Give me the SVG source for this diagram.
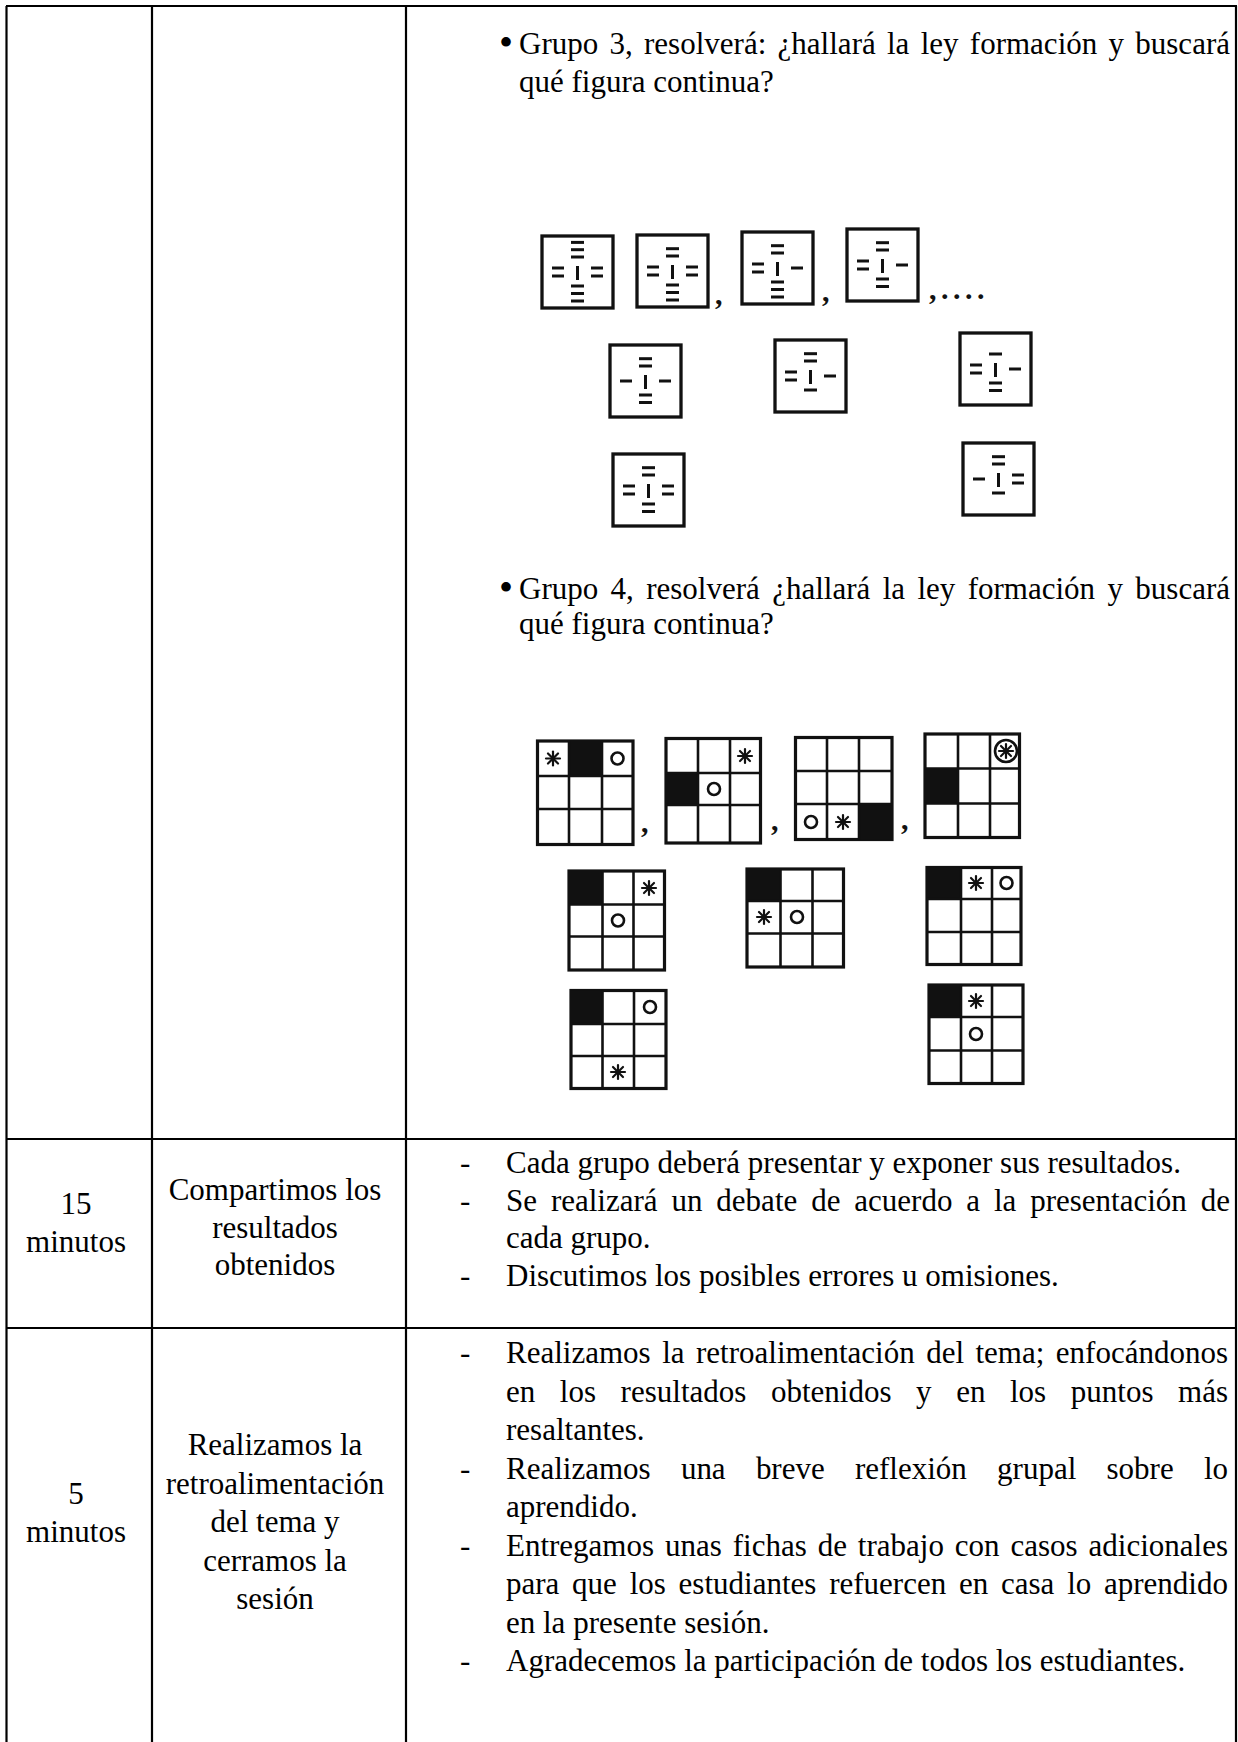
<svg xmlns="http://www.w3.org/2000/svg" width="1238" height="1742" viewBox="0 0 1238 1742">
<style>
.t{font-family:"Liberation Serif","Times New Roman",serif;font-size:31px;fill:#000}
.c{text-anchor:middle}
.bul{font-family:"Liberation Serif","Times New Roman",serif;font-size:40px;fill:#000}
.tl{stroke:#000;stroke-width:2.2;fill:none}
.bx{stroke:#111;stroke-width:3.3;fill:#fff}
.br{stroke:#111;stroke-width:3;stroke-linecap:butt}
.gr{stroke:#111;stroke-width:3.2;fill:#fff}
.gl{stroke:#111;stroke-width:2.6}
.blk{fill:#111}
.p{font-family:"Liberation Serif",serif;font-weight:bold;font-size:30px;fill:#111}
</style>
<defs>
<g id="ast" stroke="#111" stroke-width="2.2" stroke-linecap="round">
<line x1="-7" y1="0" x2="7" y2="0"/><line x1="0" y1="-7" x2="0" y2="7"/>
<line x1="-5" y1="-5" x2="5" y2="5"/><line x1="-5" y1="5" x2="5" y2="-5"/>
</g>
<circle id="ring" r="6" fill="none" stroke="#111" stroke-width="2.6"/>
</defs>
<rect x="0" y="0" width="1238" height="1742" fill="#fff"/>
<g id="table">
<line class="tl" x1="6" y1="6" x2="1237" y2="6"/>
<line class="tl" x1="6.5" y1="6" x2="6.5" y2="1742"/>
<line class="tl" x1="152" y1="6" x2="152" y2="1742"/>
<line class="tl" x1="406" y1="6" x2="406" y2="1742"/>
<line class="tl" x1="1236" y1="6" x2="1236" y2="1742"/>
<line class="tl" x1="6" y1="1139" x2="1237" y2="1139"/>
<line class="tl" x1="6" y1="1328" x2="1237" y2="1328" stroke-width="2.8"/>
</g>
<g id="group3-text">
<text class="bul" x="499" y="56">•</text>
<text class="t" x="519" y="54" word-spacing="3.5" textLength="711" lengthAdjust="spacing">Grupo 3, resolverá: ¿hallará la ley formación y buscará</text>
<text class="t" x="519" y="92">qué figura continua?</text>
</g>
<g id="group3-figure">
<g transform="translate(542,236)"><rect class="bx" width="71" height="72"/><g class="br"><line x1="35.5" y1="30" x2="35.5" y2="44"/><line x1="29" y1="21" x2="42" y2="21"/><line x1="29" y1="13.7" x2="42" y2="13.7"/><line x1="29" y1="6.4" x2="42" y2="6.4"/><line x1="29" y1="50" x2="42" y2="50"/><line x1="29" y1="57.5" x2="42" y2="57.5"/><line x1="29" y1="65" x2="42" y2="65"/><line x1="10" y1="32" x2="22" y2="32"/><line x1="10" y1="40" x2="22" y2="40"/><line x1="49" y1="32" x2="61" y2="32"/><line x1="49" y1="40" x2="61" y2="40"/></g></g>
<g transform="translate(637,235)"><rect class="bx" width="71" height="72"/><g class="br"><line x1="35.5" y1="30" x2="35.5" y2="44"/><line x1="29" y1="21" x2="42" y2="21"/><line x1="29" y1="13.7" x2="42" y2="13.7"/><line x1="29" y1="50" x2="42" y2="50"/><line x1="29" y1="57.5" x2="42" y2="57.5"/><line x1="29" y1="65" x2="42" y2="65"/><line x1="10" y1="32" x2="22" y2="32"/><line x1="10" y1="40" x2="22" y2="40"/><line x1="49" y1="32" x2="61" y2="32"/><line x1="49" y1="40" x2="61" y2="40"/></g></g>
<text class="p" x="715" y="304">,</text>
<g transform="translate(742,232)"><rect class="bx" width="71" height="72"/><g class="br"><line x1="35.5" y1="30" x2="35.5" y2="44"/><line x1="29" y1="21" x2="42" y2="21"/><line x1="29" y1="13.7" x2="42" y2="13.7"/><line x1="29" y1="50" x2="42" y2="50"/><line x1="29" y1="57.5" x2="42" y2="57.5"/><line x1="29" y1="65" x2="42" y2="65"/><line x1="10" y1="32" x2="22" y2="32"/><line x1="10" y1="40" x2="22" y2="40"/><line x1="49" y1="36" x2="61" y2="36"/></g></g>
<text class="p" x="822" y="301">,</text>
<g transform="translate(847,229)"><rect class="bx" width="71" height="72"/><g class="br"><line x1="35.5" y1="30" x2="35.5" y2="44"/><line x1="29" y1="21" x2="42" y2="21"/><line x1="29" y1="13.7" x2="42" y2="13.7"/><line x1="29" y1="50" x2="42" y2="50"/><line x1="29" y1="57.5" x2="42" y2="57.5"/><line x1="10" y1="32" x2="22" y2="32"/><line x1="10" y1="40" x2="22" y2="40"/><line x1="49" y1="36" x2="61" y2="36"/></g></g>
<text class="p" x="929" y="299" letter-spacing="4.5">,....</text>
<g transform="translate(610,345)"><rect class="bx" width="71" height="72"/><g class="br"><line x1="35.5" y1="30" x2="35.5" y2="44"/><line x1="29" y1="21" x2="42" y2="21"/><line x1="29" y1="13.7" x2="42" y2="13.7"/><line x1="29" y1="50" x2="42" y2="50"/><line x1="29" y1="57.5" x2="42" y2="57.5"/><line x1="10" y1="36" x2="22" y2="36"/><line x1="49" y1="36" x2="61" y2="36"/></g></g>
<g transform="translate(775,340)"><rect class="bx" width="71" height="72"/><g class="br"><line x1="35.5" y1="30" x2="35.5" y2="44"/><line x1="29" y1="21" x2="42" y2="21"/><line x1="29" y1="13.7" x2="42" y2="13.7"/><line x1="29" y1="50" x2="42" y2="50"/><line x1="10" y1="32" x2="22" y2="32"/><line x1="10" y1="40" x2="22" y2="40"/><line x1="49" y1="36" x2="61" y2="36"/></g></g>
<g transform="translate(960,333)"><rect class="bx" width="71" height="72"/><g class="br"><line x1="35.5" y1="30" x2="35.5" y2="44"/><line x1="29" y1="21" x2="42" y2="21"/><line x1="29" y1="50" x2="42" y2="50"/><line x1="29" y1="57.5" x2="42" y2="57.5"/><line x1="10" y1="32" x2="22" y2="32"/><line x1="10" y1="40" x2="22" y2="40"/><line x1="49" y1="36" x2="61" y2="36"/></g></g>
<g transform="translate(613,454)"><rect class="bx" width="71" height="72"/><g class="br"><line x1="35.5" y1="30" x2="35.5" y2="44"/><line x1="29" y1="21" x2="42" y2="21"/><line x1="29" y1="13.7" x2="42" y2="13.7"/><line x1="29" y1="50" x2="42" y2="50"/><line x1="29" y1="57.5" x2="42" y2="57.5"/><line x1="10" y1="32" x2="22" y2="32"/><line x1="10" y1="40" x2="22" y2="40"/><line x1="49" y1="32" x2="61" y2="32"/><line x1="49" y1="40" x2="61" y2="40"/></g></g>
<g transform="translate(963,443)"><rect class="bx" width="71" height="72"/><g class="br"><line x1="35.5" y1="30" x2="35.5" y2="44"/><line x1="29" y1="21" x2="42" y2="21"/><line x1="29" y1="13.7" x2="42" y2="13.7"/><line x1="29" y1="50" x2="42" y2="50"/><line x1="10" y1="36" x2="22" y2="36"/><line x1="49" y1="32" x2="61" y2="32"/><line x1="49" y1="40" x2="61" y2="40"/></g></g>
</g>
<g id="group4-text">
<text class="bul" x="499" y="601">•</text>
<text class="t" x="519" y="599" word-spacing="4.6" textLength="711" lengthAdjust="spacing">Grupo 4, resolverá ¿hallará la ley formación y buscará</text>
<text class="t" x="519" y="634">qué figura continua?</text>
</g>
<g id="group4-figure">
<g id="g4-1"><rect class="gr" x="537.5" y="741" width="95.5" height="103.5"/><rect class="blk" x="569" y="741" width="33" height="35"/><g class="gl"><line x1="569" y1="741" x2="569" y2="844.5"/><line x1="602" y1="741" x2="602" y2="844.5"/><line x1="537.5" y1="776" x2="633" y2="776"/><line x1="537.5" y1="809" x2="633" y2="809"/></g><use href="#ast" x="553" y="758.5"/><use href="#ring" x="617.5" y="758.5"/></g>
<text class="p" x="641" y="832">,</text>
<g id="g4-2"><rect class="gr" x="666" y="738.5" width="94.5" height="104.5"/><rect class="blk" x="666" y="773" width="32" height="32"/><g class="gl"><line x1="698" y1="738.5" x2="698" y2="843"/><line x1="730" y1="738.5" x2="730" y2="843"/><line x1="666" y1="773" x2="760.5" y2="773"/><line x1="666" y1="805" x2="760.5" y2="805"/></g><use href="#ast" x="745" y="756"/><use href="#ring" x="714" y="789"/></g>
<text class="p" x="771" y="830">,</text>
<g id="g4-3"><rect class="gr" x="795.5" y="737.5" width="96.5" height="102"/><rect class="blk" x="859" y="804" width="33" height="35.5"/><g class="gl"><line x1="827" y1="737.5" x2="827" y2="839.5"/><line x1="859" y1="737.5" x2="859" y2="839.5"/><line x1="795.5" y1="771" x2="892" y2="771"/><line x1="795.5" y1="804" x2="892" y2="804"/></g><use href="#ring" x="811" y="822"/><use href="#ast" x="843" y="822"/></g>
<text class="p" x="901" y="829">,</text>
<g id="g4-4"><rect class="gr" x="925" y="734" width="94.5" height="103.5"/><rect class="blk" x="925" y="768.5" width="33" height="35"/><g class="gl"><line x1="958" y1="734" x2="958" y2="837.5"/><line x1="990" y1="734" x2="990" y2="837.5"/><line x1="925" y1="768.5" x2="1019.5" y2="768.5"/><line x1="925" y1="803.5" x2="1019.5" y2="803.5"/></g><circle cx="1006" cy="751" r="11" fill="#fff" stroke="#111" stroke-width="2.6"/><use href="#ast" x="1006" y="751"/></g>
<g id="g4-a"><rect class="gr" x="569" y="871" width="95.5" height="99"/><rect class="blk" x="569" y="871" width="33.5" height="33.5"/><g class="gl"><line x1="602.5" y1="871" x2="602.5" y2="970"/><line x1="633.5" y1="871" x2="633.5" y2="970"/><line x1="569" y1="904.5" x2="664.5" y2="904.5"/><line x1="569" y1="936.5" x2="664.5" y2="936.5"/></g><use href="#ast" x="649" y="888"/><use href="#ring" x="618" y="920.5"/></g>
<g id="g4-b"><rect class="gr" x="747" y="869" width="96.5" height="98"/><rect class="blk" x="747" y="869" width="33.5" height="32"/><g class="gl"><line x1="780.5" y1="869" x2="780.5" y2="967"/><line x1="812.5" y1="869" x2="812.5" y2="967"/><line x1="747" y1="901" x2="843.5" y2="901"/><line x1="747" y1="933.5" x2="843.5" y2="933.5"/></g><use href="#ast" x="764" y="917"/><use href="#ring" x="797" y="917"/></g>
<g id="g4-c"><rect class="gr" x="927" y="867.5" width="94" height="97"/><rect class="blk" x="927" y="867.5" width="34" height="31.5"/><g class="gl"><line x1="961" y1="867.5" x2="961" y2="964.5"/><line x1="992" y1="867.5" x2="992" y2="964.5"/><line x1="927" y1="899" x2="1021" y2="899"/><line x1="927" y1="932" x2="1021" y2="932"/></g><use href="#ast" x="976" y="883"/><use href="#ring" x="1006.5" y="883"/></g>
<g id="g4-d"><rect class="gr" x="571" y="990.5" width="95" height="98"/><rect class="blk" x="571" y="990.5" width="31.5" height="33.5"/><g class="gl"><line x1="602.5" y1="990.5" x2="602.5" y2="1088.5"/><line x1="634" y1="990.5" x2="634" y2="1088.5"/><line x1="571" y1="1024" x2="666" y2="1024"/><line x1="571" y1="1056" x2="666" y2="1056"/></g><use href="#ring" x="650" y="1007"/><use href="#ast" x="618" y="1072"/></g>
<g id="g4-e"><rect class="gr" x="929" y="985" width="94" height="98.5"/><rect class="blk" x="929" y="985" width="32" height="32"/><g class="gl"><line x1="961" y1="985" x2="961" y2="1083.5"/><line x1="992" y1="985" x2="992" y2="1083.5"/><line x1="929" y1="1017" x2="1023" y2="1017"/><line x1="929" y1="1050.5" x2="1023" y2="1050.5"/></g><use href="#ast" x="976" y="1001"/><use href="#ring" x="976" y="1034"/></g>
</g>
<g id="row2-time"><text class="t c" x="76" y="1214">15</text><text class="t c" x="76" y="1252">minutos</text></g>
<g id="row2-phase"><text class="t c" x="275" y="1200">Compartimos los</text><text class="t c" x="275" y="1237.5">resultados</text><text class="t c" x="275" y="1275">obtenidos</text></g>
<g id="row2-activities">
<text class="t" x="460" y="1173">-</text><text class="t" x="506" y="1173">Cada grupo deberá presentar y exponer sus resultados.</text>
<text class="t" x="460" y="1210.5">-</text><text class="t" x="506" y="1210.5" word-spacing="6.1" textLength="724" lengthAdjust="spacing">Se realizará un debate de acuerdo a la presentación de</text>
<text class="t" x="506" y="1248">cada grupo.</text>
<text class="t" x="460" y="1285.5">-</text><text class="t" x="506" y="1285.5">Discutimos los posibles errores u omisiones.</text>
</g>
<g id="row3-time"><text class="t c" x="76" y="1504">5</text><text class="t c" x="76" y="1542">minutos</text></g>
<g id="row3-phase"><text class="t c" x="275" y="1455">Realizamos la</text><text class="t c" x="275" y="1493.5">retroalimentación</text><text class="t c" x="275" y="1532">del tema y</text><text class="t c" x="275" y="1570.5">cerramos la</text><text class="t c" x="275" y="1609">sesión</text></g>
<g id="row3-activities">
<text class="t" x="460" y="1363">-</text><text class="t" x="506" y="1363" word-spacing="3.7" textLength="722" lengthAdjust="spacing">Realizamos la retroalimentación del tema; enfocándonos</text>
<text class="t" x="506" y="1401.5" word-spacing="16.8" textLength="722" lengthAdjust="spacing">en los resultados obtenidos y en los puntos más</text>
<text class="t" x="506" y="1440">resaltantes.</text>
<text class="t" x="460" y="1478.5">-</text><text class="t" x="506" y="1478.5" word-spacing="22.5" textLength="722" lengthAdjust="spacing">Realizamos una breve reflexión grupal sobre lo</text>
<text class="t" x="506" y="1517">aprendido.</text>
<text class="t" x="460" y="1555.5">-</text><text class="t" x="506" y="1555.5" word-spacing="3.2" textLength="722" lengthAdjust="spacing">Entregamos unas fichas de trabajo con casos adicionales</text>
<text class="t" x="506" y="1594" word-spacing="5" textLength="722" lengthAdjust="spacing">para que los estudiantes refuercen en casa lo aprendido</text>
<text class="t" x="506" y="1632.5">en la presente sesión.</text>
<text class="t" x="460" y="1671">-</text><text class="t" x="506" y="1671">Agradecemos la participación de todos los estudiantes.</text>
</g>
</svg>
